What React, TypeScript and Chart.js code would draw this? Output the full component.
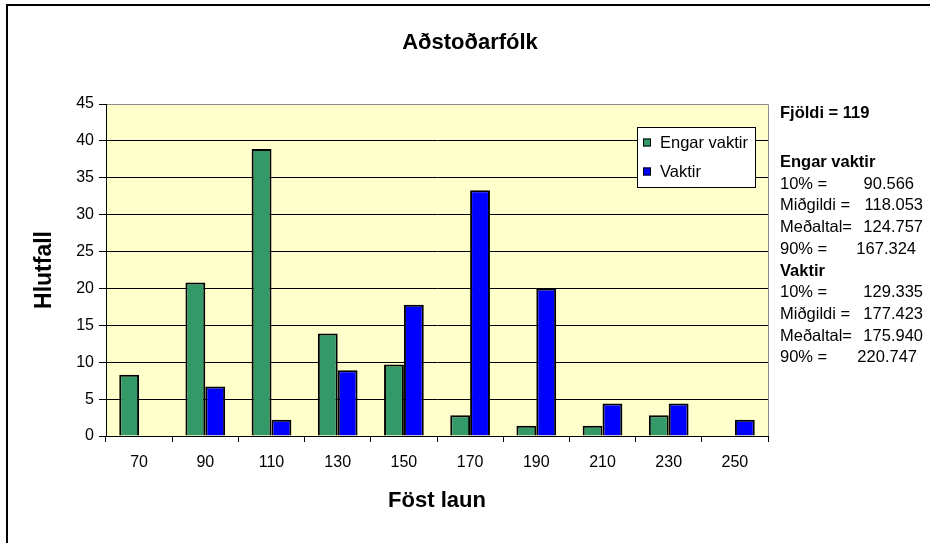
import React, { useEffect, useRef } from 'react';
import { Chart, registerables } from 'chart.js';

Chart.register(...registerables);

const categories = ['70', '90', '110', '130', '150', '170', '190', '210', '230', '250'];
const engarVaktir: (number | null)[] = [8.3, 20.8, 38.9, 13.9, 9.7, 2.8, 1.4, 1.4, 2.8, null];
const vaktir: (number | null)[] = [null, 6.7, 2.2, 8.9, 17.8, 33.3, 20.0, 4.4, 4.4, 2.2];
const yMin = 0;
const yMax = 45;
const yStep = 5;

const chartTitle = 'Aðstoðarfólk';
const xTitle = 'Föst laun';
const yTitle = 'Hlutfall';
const seriesNames = ['Engar vaktir', 'Vaktir'];
const seriesColors = ['#339966', '#0000FF'];

const fjoldiText = 'Fjöldi = 119';
const statGroups = [
  { name: 'Engar vaktir', rows: [['10% =', '90.566'], ['Miðgildi =', '118.053'], ['Meðaltal=', '124.757'], ['90% =', '167.324']] },
  { name: 'Vaktir', rows: [['10% =', '129.335'], ['Miðgildi =', '177.423'], ['Meðaltal=', '175.940'], ['90% =', '220.747']] },
];
const valueRightOffsets = [[134, 143, 143, 136], [143, 143, 143, 137]];

const FONT = '"Liberation Sans", Arial, Helvetica, sans-serif';

const decorPlugin = {
  id: 'decor',
  beforeDraw(chart: any) {
    const { ctx, chartArea } = chart;
    ctx.save();
    ctx.fillStyle = '#FFFFFF';
    ctx.fillRect(0, 0, chart.width, chart.height);
    ctx.fillStyle = '#FFFFCC';
    ctx.fillRect(chartArea.left, chartArea.top, chartArea.right - chartArea.left, chartArea.bottom - chartArea.top);
    ctx.strokeStyle = '#000';
    ctx.lineWidth = 2;
    ctx.beginPath();
    ctx.moveTo(7, chart.height);
    ctx.lineTo(7, 5);
    ctx.lineTo(930, 5);
    ctx.stroke();
    ctx.restore();
  },
  afterDatasetsDraw(chart: any) {
    const { ctx, chartArea } = chart;
    ctx.save();
    ctx.strokeStyle = '#8C8C8C';
    ctx.lineWidth = 1;
    ctx.beginPath();
    ctx.moveTo(chartArea.left + 1, Math.round(chartArea.top) + 0.5);
    ctx.lineTo(Math.round(chartArea.right) + 0.5, Math.round(chartArea.top) + 0.5);
    ctx.lineTo(Math.round(chartArea.right) + 0.5, chartArea.bottom);
    ctx.stroke();
    ctx.restore();
  },
  afterDraw(chart: any) {
    const { ctx, chartArea } = chart;
    ctx.save();
    ctx.fillStyle = '#000';
    ctx.font = `bold 22px ${FONT}`;
    ctx.textAlign = 'center';
    ctx.textBaseline = 'middle';
    ctx.fillText(chartTitle, 470, 43);
    ctx.fillText(xTitle, (chartArea.left + chartArea.right) / 2, 501);
    ctx.save();
    ctx.translate(45, (chartArea.top + chartArea.bottom) / 2);
    ctx.rotate(-Math.PI / 2);
    ctx.font = `bold 23px ${FONT}`;
    ctx.fillText(yTitle, 0, 0);
    ctx.restore();

    // Legend
    const lx = 637, ly = 127, lw = 118, lh = 60;
    ctx.fillStyle = '#FFFFFF';
    ctx.fillRect(lx, ly, lw, lh);
    ctx.strokeStyle = '#000';
    ctx.lineWidth = 1;
    ctx.strokeRect(lx + 0.5, ly + 0.5, lw, lh);
    ctx.font = `16.5px ${FONT}`;
    ctx.textAlign = 'left';
    const rowsY = [142.5, 171.5];
    chart.data.datasets.forEach((ds: any, i: number) => {
      ctx.fillStyle = ds.backgroundColor;
      ctx.fillRect(643, rowsY[i] - 4, 8, 8);
      ctx.strokeStyle = '#000';
      ctx.strokeRect(643.5, rowsY[i] - 3.5, 7, 7);
      ctx.fillStyle = '#000';
      ctx.fillText(ds.label, 660, rowsY[i] + 1);
    });

    // Stats text
    const sx = 780;
    ctx.font = `bold 16.5px ${FONT}`;
    ctx.fillText(fjoldiText, sx, 113);
    let y = 162.5;
    const step = 21.7;
    statGroups.forEach((g, gi) => {
      ctx.font = `bold 16.5px ${FONT}`;
      ctx.textAlign = 'left';
      ctx.fillText(g.name, sx, y);
      y += step;
      ctx.font = `16.5px ${FONT}`;
      g.rows.forEach((r, ri) => {
        ctx.textAlign = 'left';
        ctx.fillText(r[0], sx, y);
        ctx.textAlign = 'right';
        ctx.fillText(r[1], sx + valueRightOffsets[gi][ri], y);
        y += step;
      });
    });
    ctx.restore();
  },
};

export default function App() {
  const ref = useRef<HTMLCanvasElement | null>(null);
  useEffect(() => {
    if (!ref.current) return;
    const chart = new Chart(ref.current, {
      type: 'bar',
      data: {
        labels: categories,
        datasets: [
          { label: seriesNames[0], data: engarVaktir, backgroundColor: seriesColors[0], borderColor: '#000', borderWidth: 2, borderSkipped: 'bottom', inflateAmount: 0, categoryPercentage: 0.6, barPercentage: 1 },
          { label: seriesNames[1], data: vaktir, backgroundColor: seriesColors[1], borderColor: '#000', borderWidth: 2, borderSkipped: 'bottom', inflateAmount: 0, categoryPercentage: 0.6, barPercentage: 1 },
        ] as any,
      },
      options: {
        responsive: false,
        animation: false,
        devicePixelRatio: 1,
        layout: { padding: { left: 0, top: 104, right: 166, bottom: 0 } },
        plugins: { legend: { display: false }, title: { display: false }, tooltip: { enabled: false } },
        scales: {
          x: {
            grid: { display: true, drawOnChartArea: false, drawTicks: true, tickLength: 6, color: '#000', offset: true },
            border: { display: true, color: '#000', width: 1 },
            ticks: { color: '#000', font: { family: FONT, size: 16 }, padding: 11, maxRotation: 0, autoSkip: false },
            afterFit: (s: any) => { s.height = 107; },
          },
          y: {
            min: yMin,
            max: yMax,
            ticks: { stepSize: yStep, color: '#000', font: { family: FONT, size: 16 }, padding: 5 },
            grid: { color: '#000', tickLength: 7, tickColor: '#000' },
            border: { display: true, color: '#000', width: 1 },
            afterFit: (s: any) => { s.width = 106; },
          },
        },
      } as any,
      plugins: [decorPlugin],
    });
    return () => chart.destroy();
  }, []);
  return (
    <div style={{ position: 'fixed', left: 0, top: 0, width: 934, height: 543 }}>
      <canvas ref={ref} width={934} height={543} style={{ width: 934, height: 543, display: 'block' }} />
    </div>
  );
}
